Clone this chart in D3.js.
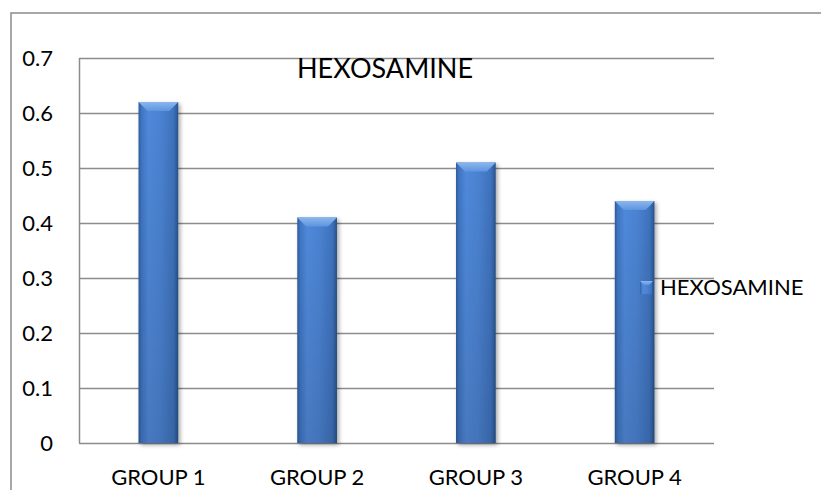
<!DOCTYPE html>
<html>
<head>
<meta charset="utf-8">
<script src="https://cdn.jsdelivr.net/npm/d3@7/dist/d3.min.js"></script>
<style>
  html, body { margin: 0; padding: 0; background: #fff; }
  svg { display: block; font-family: Lato, "Open Sans", sans-serif; }
</style>
</head>
<body>
<svg id="chart" width="821" height="490"></svg>
<script>
// Data
const categories = ["GROUP 1", "GROUP 2", "GROUP 3", "GROUP 4"];
const hexosamine = [0.62, 0.41, 0.51, 0.44];
const yTicks = [0, 0.1, 0.2, 0.3, 0.4, 0.5, 0.6, 0.7];
const seriesName = "HEXOSAMINE";
const chartTitle = "HEXOSAMINE";

const W = 821, H = 490;
const plot = { left: 79, right: 714, top: 58, bottom: 443 };

const svg = d3.select("#chart");
const defs = svg.append("defs");

// Horizontal shading for the column body
const body = defs.append("linearGradient").attr("id", "barBody")
  .attr("x1", "0").attr("x2", "1").attr("y1", "0").attr("y2", "0");
[[0, "#2c5a9a"], [0.07, "#3e75c2"], [0.25, "#5089da"], [0.55, "#4b83d2"],
 [0.88, "#3e72bc"], [0.95, "#3161a2"], [1, "#284f86"]]
  .forEach(([o, c]) => body.append("stop").attr("offset", o).attr("stop-color", c));

// Vertical fade toward the base
const fade = defs.append("linearGradient").attr("id", "barFade")
  .attr("x1", "0").attr("x2", "0").attr("y1", "0").attr("y2", "1");
fade.append("stop").attr("offset", 0).attr("stop-color", "#000").attr("stop-opacity", 0);
fade.append("stop").attr("offset", 1).attr("stop-color", "#000").attr("stop-opacity", 0.12);

// Top bevel face
const topFace = defs.append("linearGradient").attr("id", "barTop")
  .attr("x1", "0").attr("x2", "0").attr("y1", "0").attr("y2", "1");
topFace.append("stop").attr("offset", 0).attr("stop-color", "#8ab6ee");
topFace.append("stop").attr("offset", 1).attr("stop-color", "#5d95df");

// Soft drop shadow
const sh = defs.append("filter").attr("id", "shadow")
  .attr("x", "-30%").attr("y", "-10%").attr("width", "160%").attr("height", "130%");
sh.append("feGaussianBlur").attr("in", "SourceAlpha").attr("stdDeviation", 2.2);
sh.append("feOffset").attr("dx", 2).attr("dy", 2).attr("result", "b");
sh.append("feComponentTransfer").append("feFuncA").attr("type", "linear").attr("slope", 0.35);
const m = sh.append("feMerge");
m.append("feMergeNode");
m.append("feMergeNode").attr("in", "SourceGraphic");

// Outer chart frame (runs off the right and bottom edges)
svg.append("rect")
  .attr("x", 11).attr("y", 13).attr("width", 900).attr("height", 600)
  .attr("fill", "none").attr("stroke", "#8a8a8a").attr("stroke-width", 1.5);

const x = d3.scaleBand().domain(categories)
  .range([plot.left, plot.right]).paddingInner(0).paddingOuter(0);
const y = d3.scaleLinear().domain([0, 0.7]).range([plot.bottom, plot.top]);
const barW = x.bandwidth() / 4;

// Horizontal gridlines
svg.append("g").selectAll("line").data(yTicks).join("line")
  .attr("x1", plot.left).attr("x2", plot.right)
  .attr("y1", d => Math.round(y(d)) + 0.5).attr("y2", d => Math.round(y(d)) + 0.5)
  .attr("stroke", "#8c8c8c").attr("stroke-width", 1.5);

// Value axis line
svg.append("line")
  .attr("x1", plot.left + 0.5).attr("x2", plot.left + 0.5)
  .attr("y1", plot.top).attr("y2", plot.bottom)
  .attr("stroke", "#8c8c8c").attr("stroke-width", 1.5);

// Y axis labels
const yAxis = d3.axisLeft(y).tickValues(yTicks).tickSize(0).tickPadding(26)
  .tickFormat(d => d === 0 ? "0" : d3.format(".1f")(d));
const yg = svg.append("g").attr("transform", `translate(${plot.left},0)`).call(yAxis);
yg.select(".domain").remove();
yg.selectAll("text").attr("font-size", 22).attr("fill", "#000")
  .attr("font-family", "Lato, sans-serif");

// X axis labels
const xAxis = d3.axisBottom(x).tickSize(0).tickPadding(26);
const xg = svg.append("g").attr("transform", `translate(0,${plot.bottom})`).call(xAxis);
xg.select(".domain").remove();
xg.selectAll("text").attr("font-size", 22).attr("fill", "#000")
  .attr("font-family", "Lato, sans-serif");

// Columns
const bars = svg.append("g").selectAll("g").data(categories.map((c, i) => ({ c, v: hexosamine[i] })))
  .join("g").attr("filter", "url(#shadow)");

bars.append("rect")
  .attr("x", d => x(d.c) + (x.bandwidth() - barW) / 2)
  .attr("y", d => y(d.v))
  .attr("width", barW)
  .attr("height", d => y(0) - y(d.v))
  .attr("fill", "url(#barBody)");

bars.append("rect")
  .attr("x", d => x(d.c) + (x.bandwidth() - barW) / 2)
  .attr("y", d => y(d.v))
  .attr("width", barW)
  .attr("height", d => y(0) - y(d.v))
  .attr("fill", "url(#barFade)");

// Bevelled top face
const bev = 9;
bars.append("path")
  .attr("d", d => {
    const x0 = x(d.c) + (x.bandwidth() - barW) / 2, x1 = x0 + barW, t = y(d.v);
    return `M${x0},${t} L${x1},${t} L${x1 - bev},${t + bev} L${x0 + bev},${t + bev} Z`;
  })
  .attr("fill", "url(#barTop)");

// Chart title
svg.append("text")
  .attr("x", 385).attr("y", 78)
  .attr("text-anchor", "middle")
  .attr("font-size", 27).attr("fill", "#000")
  .text(chartTitle);

// Legend
const lg = svg.append("g").attr("transform", "translate(640,281)");
lg.append("rect").attr("width", 13).attr("height", 13).attr("fill", "url(#barBody)");
lg.append("path").attr("d", "M0,0 L13,0 L9,4 L4,4 Z").attr("fill", "url(#barTop)");
lg.append("text").attr("x", 20).attr("y", 14)
  .attr("font-size", 22).attr("fill", "#000")
  .text(seriesName);
</script>
</body>
</html>
